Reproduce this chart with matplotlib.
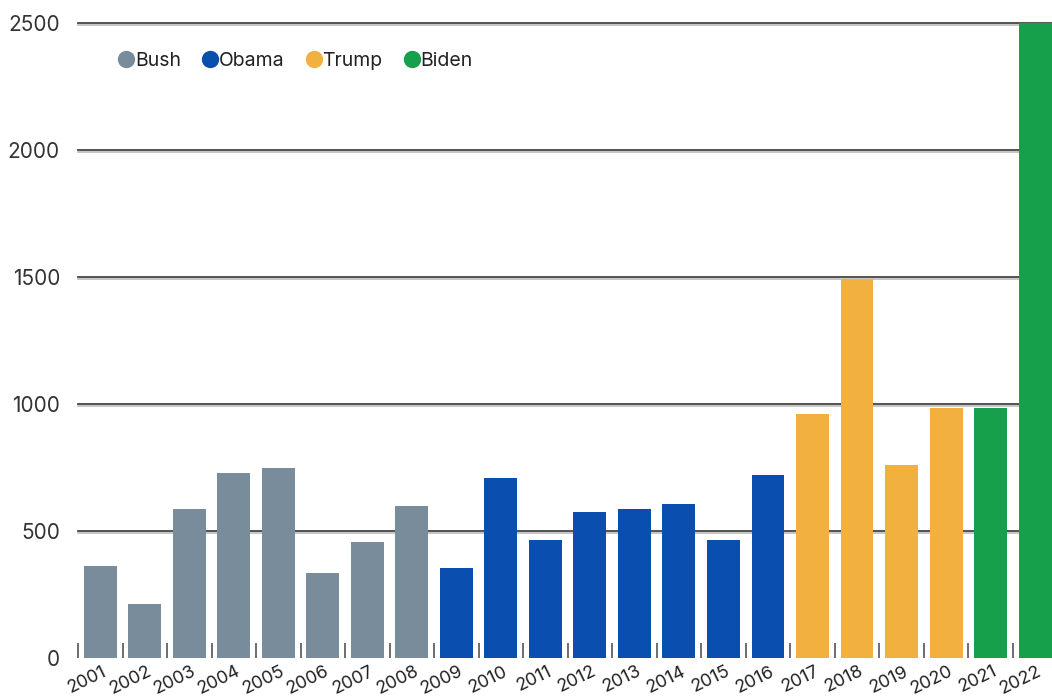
import matplotlib
matplotlib.use("Agg")
import matplotlib.pyplot as plt
from matplotlib.lines import Line2D
import matplotlib.transforms as mtransforms

years = [str(y) for y in range(2001, 2023)]
values = [362, 213, 587, 728, 748, 335, 457, 598,
          354, 709, 465, 575, 587, 606, 465, 720,
          961, 1492, 760, 984,
          984, 2500]
presidents = ["Bush"] * 8 + ["Obama"] * 8 + ["Trump"] * 4 + ["Biden"] * 2
pres_order = ["Bush", "Obama", "Trump", "Biden"]
pres_colors = {"Bush": "#788C9C", "Obama": "#0A4FB0", "Trump": "#F2B13E", "Biden": "#17A04B"}
yticks = [0, 500, 1000, 1500, 2000, 2500]

plt.rcParams['font.family'] = ['Inter', 'DejaVu Sans']

W, H = 1052, 697
fig = plt.figure(figsize=(W / 100, H / 100), dpi=100)
ax = fig.add_axes([78 / W, 39 / H, (1052 - 78) / W, 635 / H])

x = list(range(len(years)))
colors = [pres_colors[p] for p in presidents]

# gridlines (dark line with light shadow below)
ytrans = ax.get_yaxis_transform()
shadow = ytrans + mtransforms.ScaledTranslation(0, -1.5 / 100, fig.dpi_scale_trans)
for v in yticks[1:]:
    ax.plot([0, 1], [v, v], color='#BBBBBB', lw=1.2, transform=shadow, zorder=1, clip_on=False)
    ax.plot([0, 1], [v, v], color='#444444', lw=1.3, transform=ytrans, zorder=1.1, clip_on=False)

ax.bar(x, values, width=0.74, color=colors, zorder=2)

ax.set_xlim(-0.48, 21.38)
ax.set_ylim(0, 2500)
for s in ax.spines.values():
    s.set_visible(False)

ax.set_yticks(yticks)
ax.set_yticklabels([str(v) for v in yticks])
ax.tick_params(axis='y', length=0, pad=13, labelsize=15, labelcolor='#333333')

ax.set_xticks(x)
ax.set_xticklabels(years, rotation=26, ha='right', rotation_mode='anchor', va='top')
ax.tick_params(axis='x', which='major', length=0, pad=3.5, labelsize=13, labelcolor='#222222')
ax.set_xticks([i - 0.5 for i in x], minor=True)
ax.tick_params(axis='x', which='minor', direction='in', length=11, width=1.2, color='#555555')
for lbl in ax.get_xticklabels():
    lbl.set_transform(lbl.get_transform() + mtransforms.ScaledTranslation(2 / 100, 0, fig.dpi_scale_trans))

handles = [Line2D([0], [0], marker='o', color='none', markerfacecolor=pres_colors[p],
                  markeredgecolor='none', markersize=12.5, label=p) for p in pres_order]
leg = ax.legend(handles=handles, ncol=4, frameon=False, loc='center left',
                bbox_to_anchor=(100 / W, (H - 61) / H), bbox_transform=fig.transFigure,
                handlelength=0.9, handletextpad=0.0, columnspacing=1.05, fontsize=14)
for t in leg.get_texts():
    t.set_color('#222222')

fig.savefig("out.png", dpi=100)
